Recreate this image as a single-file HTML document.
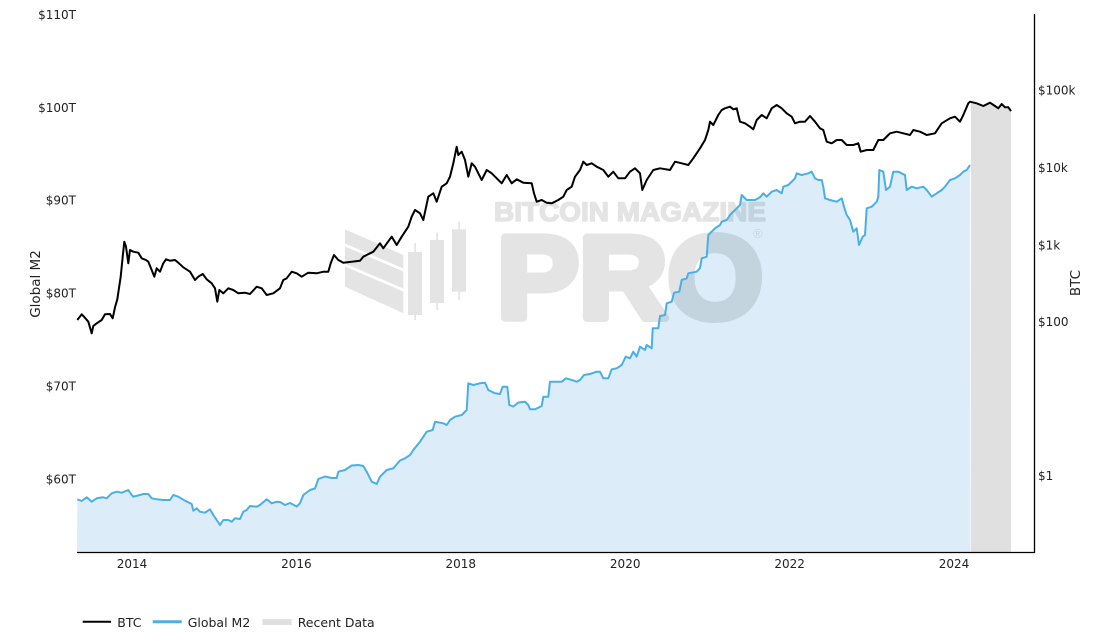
<!DOCTYPE html>
<html>
<head>
<meta charset="utf-8">
<style>
  html,body{margin:0;padding:0;background:#fff;}
  svg{display:block;}
  .t{font-family:"DejaVu Sans","Liberation Sans",sans-serif;font-size:12px;fill:#222;}
  .at{font-family:"DejaVu Sans","Liberation Sans",sans-serif;font-size:13.5px;fill:#222;}
  .lg{font-family:"DejaVu Sans","Liberation Sans",sans-serif;font-size:12.5px;fill:#222;}
  .wm{font-family:"Liberation Sans",sans-serif;font-weight:bold;}
</style>
</head>
<body>
<svg width="1096" height="642" viewBox="0 0 1096 642" xmlns="http://www.w3.org/2000/svg">
  <rect x="0" y="0" width="1096" height="642" fill="#fff"/>

  <!-- Global M2 fill -->
  <polygon fill="#dcedf9" points="77,552 77.3,499.3 81.7,501 86.7,497.3 91.7,501.7 96.7,498.3 103.3,497.3 106.7,498.3 111.7,493.3 116.7,491.7 121.7,492.7 128.3,490 131.7,495 133.3,496.7 140,495 143.3,494 148.3,494 151.7,498.3 156.7,499.3 163.3,500 170,500 173.3,495 178.3,496.7 185,500.7 191.7,504 193.3,510.7 196.7,508.3 200,511.7 205,512.7 210,509.3 213.3,515 216.7,520 220,525 223.3,520 228.3,520 231.7,521.7 235,518.3 240,519 243.3,511.7 246.7,510 250,506 256.7,506.7 260,505 266.7,499.3 271.7,503.3 276.7,501.7 280,502 285,505 290,503 296.7,506.5 300,503.3 303.3,495 310,490 315,488.5 318.3,479 325,476.5 331.7,478 336.7,478 338.3,471.7 345,470 351.7,465.5 358.3,465 363.3,466 366.7,471.7 371.7,481.7 376.7,484 380,476.7 386.7,470 393.3,468.3 400,460.5 405,458.3 410,455 413.3,450 420,441.7 426.7,431.7 432.7,430 435,421.7 443.3,423.3 446.7,425 450,420 455,416.7 461.7,415 466.7,410 468.3,383.3 473.3,385 480,383.3 485,382.7 488.3,390 495,393.3 500,394 502.7,386.7 507.3,386.7 509.3,405 513.3,406.5 518.3,402.5 525,401.7 528.3,405 530,409.3 535,409.3 541.7,406 543.3,396.7 548.3,396.7 550,381.7 555,381.7 561.7,381.7 566,378.3 571.7,380 576.7,381.7 580,380 584,375 590,374 596.7,371.7 600,371.7 603.3,378.3 608.3,378.3 611.7,369.3 616.7,368.3 621.7,365 625.7,356.7 630,358.3 633.3,351.7 636.7,356.7 640,346.7 645,350 646.7,345 651.7,348.3 652.7,328.3 658.3,328.3 660,316 665,315 666.7,303.3 671.7,301.7 674,292.7 679.3,291.7 681.7,280 686.7,278.3 688.3,273.3 696.7,271.7 700,268 701.7,258.3 706.7,256.7 708.3,235 715,228.3 720,225 721.7,221.7 726.7,220 730,215 736.7,208.3 740,205 741.7,195 746.7,200 755,200 760,197.3 763.3,193.3 766.7,196.7 771.7,191.7 776.7,190 781.7,193.3 783.3,186.7 788.3,185 791.7,181.7 795,178.3 796.7,173.3 801.7,175 808.3,173.3 811.7,171.7 815,178.3 818.3,180 821.7,180 823.3,186.7 825,198.3 830,200 836.7,201.7 841.7,198.3 844,206.7 846.7,215 850,220 853.3,231.7 856.7,228.3 859,245 862.7,236.7 865,235 866.7,208.3 871.7,206.7 876.7,201.7 878.3,196.7 879.3,170 883.3,171.7 886,190 890,186.7 893.3,171.7 898.3,171.7 905,175 906.7,190 911.7,186.7 916.7,188.3 923.3,186.7 926.7,190 931.7,196.7 936.7,193.3 941.7,190 945,186.7 950,180 955,178.3 960,175 963.3,171.7 966.7,170 970,165 970.5,552"/>

  <!-- Recent data area -->
  <polygon fill="#e0e0e0" points="971,552 971,101.7 976.7,103.3 983.3,106 990,102.7 995,106 998.3,108.3 1001.7,104 1005,107.3 1008.3,107.3 1011,111 1011,552"/>

  <!-- Watermark -->
  <g opacity="0.1" fill="#000">
    <polygon points="345,229.3 403.3,255 403.3,268.5 345,243.5"/>
    <polygon points="345,246.5 403.3,271.5 403.3,288.5 345,263.5"/>
    <polygon points="345,266.5 403.3,291.5 403.3,313.3 345,286.7"/>
    <rect x="408" y="252" width="14" height="63"/>
    <rect x="414.2" y="243" width="1.8" height="77"/>
    <rect x="430" y="240" width="14" height="63"/>
    <rect x="436.2" y="232.7" width="1.8" height="77.3"/>
    <rect x="452" y="229.3" width="14" height="62.4"/>
    <rect x="458.2" y="221.7" width="1.8" height="78.3"/>
    <text class="wm" x="494" y="221" font-size="27" textLength="272" lengthAdjust="spacingAndGlyphs" stroke="#000" stroke-width="1.6" stroke-linejoin="round">BITCOIN MAGAZINE</text>
    <text class="wm" x="497" y="318" font-size="117" textLength="266" lengthAdjust="spacingAndGlyphs" stroke="#000" stroke-width="8" stroke-linejoin="round">PRO</text>
    <text x="753" y="238" font-family="Liberation Sans, sans-serif" font-size="13">®</text>
  </g>

  <!-- Global M2 line -->
  <polyline fill="none" stroke="#4aafe8" stroke-width="2" stroke-linejoin="round" points="77.3,499.3 81.7,501 86.7,497.3 91.7,501.7 96.7,498.3 103.3,497.3 106.7,498.3 111.7,493.3 116.7,491.7 121.7,492.7 128.3,490 131.7,495 133.3,496.7 140,495 143.3,494 148.3,494 151.7,498.3 156.7,499.3 163.3,500 170,500 173.3,495 178.3,496.7 185,500.7 191.7,504 193.3,510.7 196.7,508.3 200,511.7 205,512.7 210,509.3 213.3,515 216.7,520 220,525 223.3,520 228.3,520 231.7,521.7 235,518.3 240,519 243.3,511.7 246.7,510 250,506 256.7,506.7 260,505 266.7,499.3 271.7,503.3 276.7,501.7 280,502 285,505 290,503 296.7,506.5 300,503.3 303.3,495 310,490 315,488.5 318.3,479 325,476.5 331.7,478 336.7,478 338.3,471.7 345,470 351.7,465.5 358.3,465 363.3,466 366.7,471.7 371.7,481.7 376.7,484 380,476.7 386.7,470 393.3,468.3 400,460.5 405,458.3 410,455 413.3,450 420,441.7 426.7,431.7 432.7,430 435,421.7 443.3,423.3 446.7,425 450,420 455,416.7 461.7,415 466.7,410 468.3,383.3 473.3,385 480,383.3 485,382.7 488.3,390 495,393.3 500,394 502.7,386.7 507.3,386.7 509.3,405 513.3,406.5 518.3,402.5 525,401.7 528.3,405 530,409.3 535,409.3 541.7,406 543.3,396.7 548.3,396.7 550,381.7 555,381.7 561.7,381.7 566,378.3 571.7,380 576.7,381.7 580,380 584,375 590,374 596.7,371.7 600,371.7 603.3,378.3 608.3,378.3 611.7,369.3 616.7,368.3 621.7,365 625.7,356.7 630,358.3 633.3,351.7 636.7,356.7 640,346.7 645,350 646.7,345 651.7,348.3 652.7,328.3 658.3,328.3 660,316 665,315 666.7,303.3 671.7,301.7 674,292.7 679.3,291.7 681.7,280 686.7,278.3 688.3,273.3 696.7,271.7 700,268 701.7,258.3 706.7,256.7 708.3,235 715,228.3 720,225 721.7,221.7 726.7,220 730,215 736.7,208.3 740,205 741.7,195 746.7,200 755,200 760,197.3 763.3,193.3 766.7,196.7 771.7,191.7 776.7,190 781.7,193.3 783.3,186.7 788.3,185 791.7,181.7 795,178.3 796.7,173.3 801.7,175 808.3,173.3 811.7,171.7 815,178.3 818.3,180 821.7,180 823.3,186.7 825,198.3 830,200 836.7,201.7 841.7,198.3 844,206.7 846.7,215 850,220 853.3,231.7 856.7,228.3 859,245 862.7,236.7 865,235 866.7,208.3 871.7,206.7 876.7,201.7 878.3,196.7 879.3,170 883.3,171.7 886,190 890,186.7 893.3,171.7 898.3,171.7 905,175 906.7,190 911.7,186.7 916.7,188.3 923.3,186.7 926.7,190 931.7,196.7 936.7,193.3 941.7,190 945,186.7 950,180 955,178.3 960,175 963.3,171.7 966.7,170 970,165"/>

  <!-- BTC line -->
  <polyline fill="none" stroke="#000" stroke-width="2" stroke-linejoin="round" points="77.3,320 81.7,314.3 84,316.7 88.3,321.7 91.7,333.3 93.3,326 96.7,323.3 101.7,320 105,314.3 110,314 112.7,318.3 115,307.3 117.3,299.3 120.7,276.7 122.7,256.7 124.3,241.7 126,246.7 128.3,263.3 130,250 133.3,251.7 138.3,252.7 141.7,258.3 146,260 148.3,261.7 151.7,270 154.3,276.7 156.7,268.3 160,271.7 163.3,263.3 166,259.3 170,260.7 175,260 178.3,262.7 183.3,267.3 190,271.7 195,280 198.3,276.7 202.7,274 206.7,279.3 211.7,283.3 215,288.3 217.3,301.7 219.3,290 223.3,293.3 228.3,288.3 233.3,290 238.3,293.3 245,292.7 250,294 256.7,286.7 261.7,288.3 266.7,295 273.3,293.3 280,288.3 283.3,280 286.7,278.3 291.7,271.7 296.7,273.3 301.7,276.7 308.3,272.7 316.7,273.3 323.3,271.7 328.3,271.7 330.7,263.3 334,255 338.3,260 343.3,262.7 351.7,261.7 360,260.7 363.3,256.7 373.3,251.7 380,243.3 383.3,248.3 391.7,236.7 396.7,245 401.7,236.7 408.3,226.7 411.7,216.7 415,210 420,213.3 423.3,220 428.3,196.7 433.3,193.3 436.7,201.7 441.7,186.7 446.7,183.3 450,176.7 453.3,163.3 456.7,146.7 458.3,155 461.7,151.7 465,160 468.3,176.7 471.7,163.3 475,166.7 478.3,173.3 481.7,180 486.7,170 491.7,173.3 496.7,178.3 501.7,183.3 506.7,175 511.7,183.3 516.7,179.3 523.3,182.7 531.7,183.3 534,193.3 536.7,201.7 541.7,200 546.7,202.7 551.7,203.3 558.3,200 563.3,196.7 566.7,190 571.7,186.7 575,176.7 580,170 583.3,161.7 586.7,165 591.7,163.3 596.7,166.7 603.3,170 608.3,176.7 613.3,171.7 618.3,178.3 625,178.3 630,171.7 635,168.3 640,173.3 642.3,190 646.7,180 653.3,170 660,168.3 670,170 675,161.7 681.7,163.3 688.3,165 693.3,158.3 700,148.3 705,140 708.3,130 710,121.7 713.3,125 718.3,115 721.7,110 725,108.3 730,106.7 733.3,109.3 736.7,108.3 740,121.7 745,123.3 750,126.7 753.3,129.3 756.7,120 761.7,115 766.7,118.3 771.7,108.3 776.7,105 781.7,108.3 786.7,113.3 791.7,116.7 795,123.3 800,121.7 805,121.7 810,116 815,121.7 820,128.3 823.3,130 826.7,141.7 831.7,143.3 836.7,140 841.7,140 846.7,145 853.3,145 858.3,143.3 860.7,151.7 866.7,150 873.3,150 878.3,140 883.3,140 890,133.3 896.7,131.7 903.3,133.3 910,135 913.3,130 920,131.7 926.7,135 935,133.3 938.3,128.3 941.7,123.3 950,118.3 955,116.7 960,121.7 963.3,115 968.3,103.3 970,101.7 976.7,103.3 983.3,106 990,102.7 995,106 998.3,108.3 1001.7,104 1005,107.3 1008.3,107.3 1011,111"/>

  <!-- Axes lines -->
  <line x1="77" y1="552.5" x2="1034.5" y2="552.5" stroke="#000" stroke-width="1.3"/>
  <line x1="1034.5" y1="14" x2="1034.5" y2="553" stroke="#000" stroke-width="1.3"/>

  <!-- Left ticks -->
  <text class="t" x="76" y="19" text-anchor="end">$110T</text>
  <text class="t" x="76" y="112" text-anchor="end">$100T</text>
  <text class="t" x="76" y="204.5" text-anchor="end">$90T</text>
  <text class="t" x="76" y="297.5" text-anchor="end">$80T</text>
  <text class="t" x="76" y="390.5" text-anchor="end">$70T</text>
  <text class="t" x="76" y="483.5" text-anchor="end">$60T</text>

  <!-- Right ticks -->
  <text class="t" x="1038" y="94.5">$100k</text>
  <text class="t" x="1038" y="171.8">$10k</text>
  <text class="t" x="1038" y="249.5">$1k</text>
  <text class="t" x="1038" y="326.2">$100</text>
  <text class="t" x="1038" y="480">$1</text>

  <!-- X ticks -->
  <text class="t" x="132" y="568" text-anchor="middle">2014</text>
  <text class="t" x="296.4" y="568" text-anchor="middle">2016</text>
  <text class="t" x="460.8" y="568" text-anchor="middle">2018</text>
  <text class="t" x="625.2" y="568" text-anchor="middle">2020</text>
  <text class="t" x="789.6" y="568" text-anchor="middle">2022</text>
  <text class="t" x="954" y="568" text-anchor="middle">2024</text>

  <!-- Axis titles -->
  <text class="at" transform="translate(40,284) rotate(-90)" text-anchor="middle">Global M2</text>
  <text class="at" transform="translate(1080,283) rotate(-90)" text-anchor="middle">BTC</text>

  <!-- Legend -->
  <line x1="82.7" y1="621.7" x2="111" y2="621.7" stroke="#000" stroke-width="2"/>
  <text class="lg" x="117.3" y="627">BTC</text>
  <line x1="152.7" y1="621.7" x2="181.7" y2="621.7" stroke="#4aafe8" stroke-width="3"/>
  <text class="lg" x="187.7" y="627">Global M2</text>
  <rect x="262.3" y="619" width="29.4" height="6" fill="#e0e0e0"/>
  <text class="lg" x="297.7" y="627">Recent Data</text>
</svg>
</body>
</html>
